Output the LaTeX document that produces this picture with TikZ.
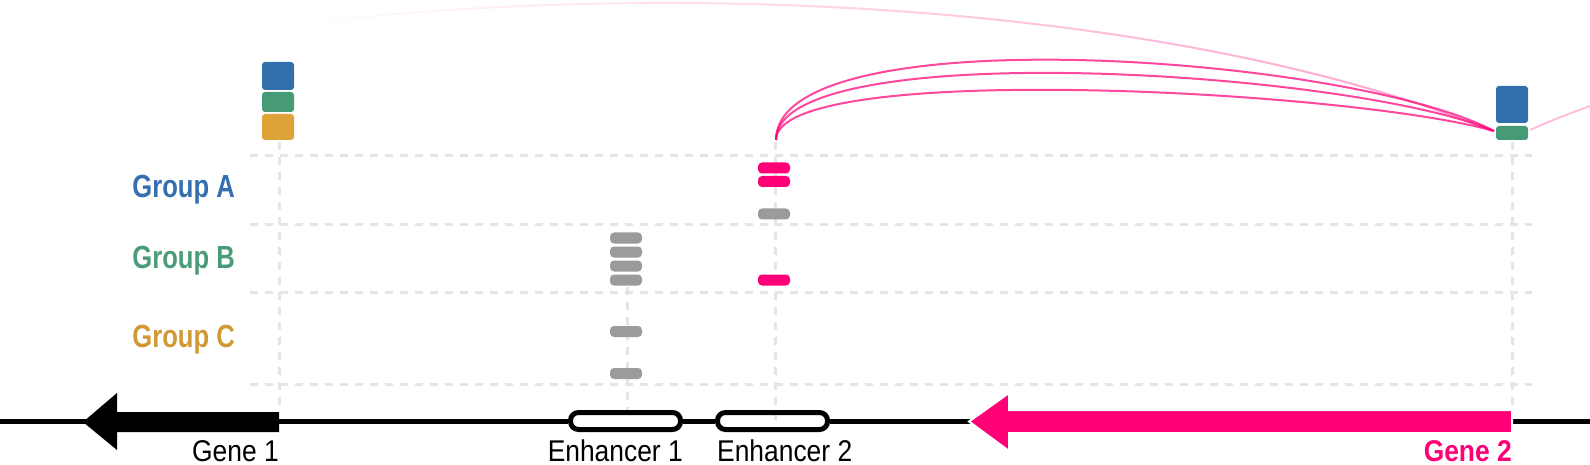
\documentclass[tikz,border=0pt]{standalone}
\usepackage{fontspec}
\setmainfont{Liberation Sans}
\newfontfamily\cf[FakeStretch=0.88]{Liberation Sans}
\newfontfamily\cfb[FakeStretch=0.80]{Liberation Sans}
\usetikzlibrary{fadings}
\definecolor{sqblue}{RGB}{49,112,173}
\definecolor{sqgreen}{RGB}{71,154,118}
\definecolor{sqorange}{RGB}{222,163,56}
\definecolor{lblblue}{RGB}{52,112,176}
\definecolor{lblgreen}{RGB}{74,155,120}
\definecolor{lblorange}{RGB}{208,153,52}
\definecolor{gpink}{RGB}{255,0,119}
\definecolor{bargray}{RGB}{155,155,155}
\definecolor{gridgray}{RGB}{229,229,229}
\tikzfading[name=fadeleft, left color=transparent!100, middle color=transparent!0, right color=transparent!0]
\tikzset{
  grid/.style={draw=gridgray, line width=3pt, dash pattern=on 8pt off 7pt},
  bar/.style={rectangle, minimum width=32pt, minimum height=11pt, inner sep=0pt, rounded corners=4pt, fill=bargray},
  pbar/.style={bar, fill=gpink},
  sq/.style={rectangle, inner sep=0pt, minimum width=32pt, rounded corners=3pt},
  enh/.style={rectangle, draw=black, line width=5pt, minimum width=110pt, minimum height=17pt, inner sep=0pt, rounded corners=8pt},
  arc/.style={draw=gpink, draw opacity=0.72, line width=2pt},
  glab/.style={anchor=base east, inner sep=0pt, font=\cfb\bfseries\fontsize{32}{38}\selectfont},
  tlab/.style={inner sep=0pt, font=\cf\fontsize{30}{36}\selectfont},
}
\begin{document}
\begin{tikzpicture}[x=1pt,y=-1pt]
\useasboundingbox (0,0) rectangle (1590,465);
% grid
\foreach \yy in {156,225,292,384} \draw[grid] (250,\yy) -- (1532,\yy);
\draw[grid] (279,142) -- (279,412);
\draw[grid] (627,287) -- (627,420);
\draw[grid] (775,142) -- (775,420);
\draw[grid] (1512,142) -- (1512,408);
% enhancers and gene line
\node[enh] (e1) at (625.5,421) {};
\node[enh] (e2) at (772.5,421) {};
\coordinate (L) at (0,421);
\coordinate (R) at (1590,421);
\draw[line width=5pt] (L) -- (e1.west);
\draw[line width=5pt] (e1.east) -- (e2.west);
\draw[line width=5pt] (e2.east) -- (R);
% genes
\fill[black] (279,412) -- (117,412) -- (117,393) -- (83,422) -- (117,450) -- (117,432) -- (279,432) -- cycle;
\filldraw[fill=gpink, draw=white, line width=2pt] (1512,410) -- (1009,410) -- (1009,393) -- (969,421.5) -- (1009,451) -- (1009,433) -- (1512,433) -- cycle;
% labels
\node[tlab, anchor=base east] (g1) at (279,461) {Gene 1};
\node[tlab, anchor=base east, text=gpink, font=\cf\bfseries\fontsize{30}{36}\selectfont] (g2) at (1512,461) {Gene 2};
\node[tlab, anchor=base east] (l1) at (683,461) {Enhancer 1};
\node[tlab, anchor=base west] (l2) at (717,461) {Enhancer 2};
\node[glab, text=lblblue] (ga) at (235,198) {Group A};
\node[glab, text=lblgreen] (gb) at (235,268) {Group B};
\node[glab, text=lblorange] (gc) at (235,347) {Group C};
% bars enhancer 1
\node[bar] (a1) at (626,238) {};
\node[bar] (a2) at (626,252) {};
\node[bar] (a3) at (626,266) {};
\node[bar] (a4) at (626,280) {};
\node[bar] (a5) at (626,331.5) {};
\node[bar] (a6) at (626,373.5) {};
% bars enhancer 2
\node[pbar] (b1) at (774,168) {};
\node[pbar] (b2) at (774,181.5) {};
\node[bar] (b3) at (774,214) {};
\node[pbar] (b4) at (774,280) {};
% squares
\node[sq, fill=sqblue, minimum height=28pt] (s1) at (278,76) {};
\node[sq, fill=sqgreen, minimum height=20pt] (s2) at (278,102) {};
\node[sq, fill=sqorange, minimum height=26pt] (s3) at (278,127) {};
\node[sq, fill=sqblue, minimum height=37pt] (t1) at (1512,104.5) {};
\node[sq, fill=sqgreen, minimum height=14pt] (t2) at (1512,133) {};
% arcs
\coordinate (aS) at (776,140);
\coordinate (aE) at (1494,131);
\coordinate (fL) at (290,25);
\coordinate (rS) at (1530,130);
\coordinate (rE) at (1590,106);
\draw[arc] (aS) .. controls (776,15) and (1350,55) .. (aE);
\draw[arc] (aS) .. controls (776,35) and (1350,70) .. (aE);
\draw[arc] (aS) .. controls (776,60) and (1350,90) .. (aE);
\path[draw=gpink, draw opacity=0.38, line width=2pt, path fading=fadeleft] (aE) .. controls (1200,10) and (700,-25) .. (fL);
\draw[draw=gpink, draw opacity=0.25, line width=2pt] (rS) .. controls (1555,119) .. (rE);
\end{tikzpicture}
\end{document}
